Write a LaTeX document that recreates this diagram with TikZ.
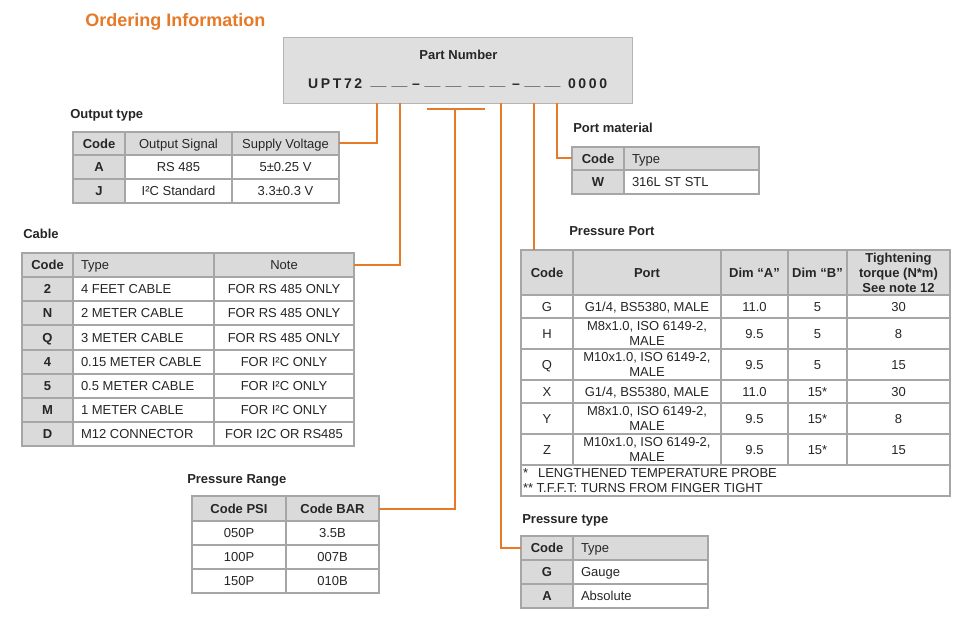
\documentclass[tikz,border=0pt]{standalone}
\usepackage{fontspec}
\setmainfont{Liberation Sans}
\definecolor{org}{HTML}{E77A28}
\definecolor{grid}{HTML}{A6A6A6}
\definecolor{hdr}{HTML}{DADADA}
\definecolor{tx}{HTML}{262626}
\definecolor{pnfill}{HTML}{DFDFDF}
\definecolor{pnline}{HTML}{B4B4B4}
\newcommand\fs{\fontsize{9.75}{10.8}\selectfont}
\tikzset{
  cellbg/.style={draw=grid, line width=1.1pt, inner sep=0pt, outer sep=0pt},
  txt/.style={inner sep=0pt, outer sep=0pt, font=\fs, text=tx},
  sl/.style={text height=7pt, text depth=0pt},
  bf/.style={font=\fs\bfseries},
  conn/.style={draw=org, line width=1.5pt},
  sect/.style={inner sep=0pt, anchor=base west, font=\fs\bfseries, text=tx},
  pnt/.style={inner sep=0pt, outer sep=0pt, font=\fontsize{10.5}{12}\selectfont\bfseries, text=tx},
}
\newcommand\cellbox[6]{\node[cellbg, fill=#6, minimum width={(#4-#2)*0.75pt}, minimum height={(#5-#3)*0.75pt}, anchor=north west] (#1) at (#2,#3) {};}
\newcommand\cc[8]{\cellbox{#1}{#2}{#3}{#4}{#5}{#6}\node[txt,sl,#7] (#1t) at (#1.center) {#8};}
\newcommand\cl[8]{\cellbox{#1}{#2}{#3}{#4}{#5}{#6}\node[txt,sl,anchor=west,#7] (#1t) at ([xshift=6pt]#1.west) {#8};}
\newcommand\cm[8]{\cellbox{#1}{#2}{#3}{#4}{#5}{#6}\node[txt,#7] (#1t) at (#1.center) {#8};}
\begin{document}
\begin{tikzpicture}[x=0.75pt,y=-0.75pt]
\fill[white] (0,0) rectangle (969,634);
\useasboundingbox (0,0) rectangle (969,634);

% title
\node[anchor=base west, inner sep=0pt, font=\fontsize{13.5}{16}\selectfont\bfseries, text=org] (title) at (85,26.5) {Ordering Information};

% part number box
\node[draw=pnline, fill=pnfill, line width=1pt, inner sep=0pt, minimum width={349*0.75pt}, minimum height={66*0.75pt}, anchor=north west] (pn) at (283,37) {};
\node[txt, bf, anchor=base] (pnl) at (458.5,59.5) {Part Number};
\node[pnt, anchor=base west] (pnu) at (308,89) {U\hspace{2pt}P\hspace{2pt}T\hspace{2pt}7\hspace{2pt}2};
\node[pnt, anchor=base] (b1) at (378.5,85.5) {\_\_};
\node[pnt, anchor=base] (b2) at (399.5,85.5) {\_\_};
\node[pnt, anchor=base] (d1) at (416,88.5) {–};
\node[pnt, anchor=base] (b3) at (432.5,85.5) {\_\_};
\node[pnt, anchor=base] (b4) at (453.5,85.5) {\_\_};
\node[pnt, anchor=base] (b5) at (476.5,85.5) {\_\_};
\node[pnt, anchor=base] (b6) at (497.5,85.5) {\_\_};
\node[pnt, anchor=base] (d2) at (516,88.5) {–};
\node[pnt, anchor=base] (b7) at (532.5,85.5) {\_\_};
\node[pnt, anchor=base] (b8) at (552.5,85.5) {\_\_};
\node[pnt, anchor=base west] (pnz) at (568,89) {0\hspace{2pt}0\hspace{2pt}0\hspace{2pt}0};

% section titles
\node[sect] (sOT) at (70,119) {Output type};
\node[sect] (sCB) at (23,239) {Cable};
\node[sect] (sPR) at (187,483) {Pressure Range};
\node[sect] (sPM) at (573,133) {Port material};
\node[sect] (sPP) at (569,236) {Pressure Port};
\node[sect] (sPT) at (522,523) {Pressure type};

% connector anchor points on part number box
\coordinate (c1) at (377,103);
\coordinate (c2) at (400,103);
\coordinate (ta) at (427,109);
\coordinate (tb) at (485,109);
\coordinate (tm) at (455,109);
\coordinate (c4) at (501,103);
\coordinate (c5) at (534,103);
\coordinate (c6) at (557,103);

% ---------- Output type ----------
\cc{otC}{73}{132}{125}{155}{hdr}{bf}{Code}
\cc{otO}{125}{132}{232}{155}{hdr}{}{Output Signal}
\cc{otS}{232}{132}{339}{155}{hdr}{}{Supply Voltage}
\cc{otA}{73}{155}{125}{179}{hdr}{bf}{A}
\cc{otAb}{125}{155}{232}{179}{white}{}{RS 485}
\cc{otAc}{232}{155}{339}{179}{white}{}{5±0.25 V}
\cc{otJ}{73}{179}{125}{203}{hdr}{bf}{J}
\cc{otJb}{125}{179}{232}{203}{white}{}{I²C Standard}
\cc{otJc}{232}{179}{339}{203}{white}{}{3.3±0.3 V}

% ---------- Cable ----------
\cc{cbC}{22}{253}{73}{277}{hdr}{bf}{Code}
\cl{cbT}{73}{253}{214}{277}{hdr}{}{Type}
\cc{cbN}{214}{253}{354}{277}{hdr}{}{Note}
\cc{cb1a}{22}{277}{73}{301}{hdr}{bf}{2}
\cl{cb1b}{73}{277}{214}{301}{white}{}{4 FEET CABLE}
\cc{cb1c}{214}{277}{354}{301}{white}{}{FOR RS 485 ONLY}
\cc{cb2a}{22}{301}{73}{325}{hdr}{bf}{N}
\cl{cb2b}{73}{301}{214}{325}{white}{}{2 METER CABLE}
\cc{cb2c}{214}{301}{354}{325}{white}{}{FOR RS 485 ONLY}
\cc{cb3a}{22}{325}{73}{350}{hdr}{bf}{Q}
\cl{cb3b}{73}{325}{214}{350}{white}{}{3 METER CABLE}
\cc{cb3c}{214}{325}{354}{350}{white}{}{FOR RS 485 ONLY}
\cc{cb4a}{22}{350}{73}{374}{hdr}{bf}{4}
\cl{cb4b}{73}{350}{214}{374}{white}{}{0.15 METER CABLE}
\cc{cb4c}{214}{350}{354}{374}{white}{}{FOR I²C ONLY}
\cc{cb5a}{22}{374}{73}{398}{hdr}{bf}{5}
\cl{cb5b}{73}{374}{214}{398}{white}{}{0.5 METER CABLE}
\cc{cb5c}{214}{374}{354}{398}{white}{}{FOR I²C ONLY}
\cc{cb6a}{22}{398}{73}{422}{hdr}{bf}{M}
\cl{cb6b}{73}{398}{214}{422}{white}{}{1 METER CABLE}
\cc{cb6c}{214}{398}{354}{422}{white}{}{FOR I²C ONLY}
\cc{cb7a}{22}{422}{73}{446}{hdr}{bf}{D}
\cl{cb7b}{73}{422}{214}{446}{white}{}{M12 CONNECTOR}
\cc{cb7c}{214}{422}{354}{446}{white}{}{FOR I2C OR RS485}

% ---------- Pressure Range ----------
\cc{prP}{192}{496}{286}{521}{hdr}{bf}{Code PSI}
\cc{prB}{286}{496}{379}{521}{hdr}{bf}{Code BAR}
\cc{pr1a}{192}{521}{286}{545}{white}{}{050P}
\cc{pr1b}{286}{521}{379}{545}{white}{}{3.5B}
\cc{pr2a}{192}{545}{286}{569}{white}{}{100P}
\cc{pr2b}{286}{545}{379}{569}{white}{}{007B}
\cc{pr3a}{192}{569}{286}{593}{white}{}{150P}
\cc{pr3b}{286}{569}{379}{593}{white}{}{010B}

% ---------- Port material ----------
\cc{pmC}{572}{147}{624}{170}{hdr}{bf}{Code}
\cl{pmT}{624}{147}{759}{170}{hdr}{}{Type}
\cc{pmW}{572}{170}{624}{194}{hdr}{bf}{W}
\cl{pmWb}{624}{170}{759}{194}{white}{}{316L ST STL}

% ---------- Pressure Port ----------
\cc{ppC}{521}{250}{573}{295}{hdr}{bf}{Code}
\cc{ppP}{573}{250}{721}{295}{hdr}{bf}{Port}
\cc{ppA}{721}{250}{788}{295}{hdr}{bf}{Dim “A”}
\cc{ppB}{788}{250}{847}{295}{hdr}{bf}{Dim “B”}
\cm{ppT}{847}{250}{950}{295}{hdr}{align=center, font=\fontsize{9.75}{11.25}\selectfont\bfseries}{Tightening\\torque (N*m)\\See note 12}
% row G
\cc{pg1}{521}{295}{573}{318}{white}{}{G}
\cc{pg2}{573}{295}{721}{318}{white}{}{G1/4, BS5380, MALE}
\cc{pg3}{721}{295}{788}{318}{white}{}{11.0}
\cc{pg4}{788}{295}{847}{318}{white}{}{5}
\cc{pg5}{847}{295}{950}{318}{white}{}{30}
% row H
\cc{ph1}{521}{318}{573}{349}{white}{}{H}
\cm{ph2}{573}{318}{721}{349}{white}{align=center}{M8x1.0, ISO 6149-2,\\MALE}
\cc{ph3}{721}{318}{788}{349}{white}{}{9.5}
\cc{ph4}{788}{318}{847}{349}{white}{}{5}
\cc{ph5}{847}{318}{950}{349}{white}{}{8}
% row Q
\cc{pq1}{521}{349}{573}{380}{white}{}{Q}
\cm{pq2}{573}{349}{721}{380}{white}{align=center}{M10x1.0, ISO 6149-2,\\MALE}
\cc{pq3}{721}{349}{788}{380}{white}{}{9.5}
\cc{pq4}{788}{349}{847}{380}{white}{}{5}
\cc{pq5}{847}{349}{950}{380}{white}{}{15}
% row X
\cc{px1}{521}{380}{573}{403}{white}{}{X}
\cc{px2}{573}{380}{721}{403}{white}{}{G1/4, BS5380, MALE}
\cc{px3}{721}{380}{788}{403}{white}{}{11.0}
\cc{px4}{788}{380}{847}{403}{white}{}{15*}
\cc{px5}{847}{380}{950}{403}{white}{}{30}
% row Y
\cc{py1}{521}{403}{573}{434}{white}{}{Y}
\cm{py2}{573}{403}{721}{434}{white}{align=center}{M8x1.0, ISO 6149-2,\\MALE}
\cc{py3}{721}{403}{788}{434}{white}{}{9.5}
\cc{py4}{788}{403}{847}{434}{white}{}{15*}
\cc{py5}{847}{403}{950}{434}{white}{}{8}
% row Z
\cc{pz1}{521}{434}{573}{465}{white}{}{Z}
\cm{pz2}{573}{434}{721}{465}{white}{align=center}{M10x1.0, ISO 6149-2,\\MALE}
\cc{pz3}{721}{434}{788}{465}{white}{}{9.5}
\cc{pz4}{788}{434}{847}{465}{white}{}{15*}
\cc{pz5}{847}{434}{950}{465}{white}{}{15}
% footnotes
\cellbox{ppF}{521}{465}{950}{496}{white}
\node[txt, sl, anchor=west] (ppF1) at (523,473) {*\hspace{7.5pt}LENGTHENED TEMPERATURE PROBE};
\node[txt, sl, anchor=west] (ppF2) at (523,488) {** T.F.F.T: TURNS FROM FINGER TIGHT};

% ---------- Pressure type ----------
\cc{ptC}{521}{536}{573}{560}{hdr}{bf}{Code}
\cl{ptT}{573}{536}{708}{560}{hdr}{}{Type}
\cc{ptG}{521}{560}{573}{584}{hdr}{bf}{G}
\cl{ptGb}{573}{560}{708}{584}{white}{}{Gauge}
\cc{ptA}{521}{584}{573}{608}{hdr}{bf}{A}
\cl{ptAb}{573}{584}{708}{608}{white}{}{Absolute}

% ---------- connectors ----------
\draw[conn] (c1) |- (otS.east);
\draw[conn] (c2) |- (cbN.east);
\draw[conn] (ta) -- (tb);
\draw[conn] (tm) |- (prB.east);
\draw[conn] (c4) |- (ptC.west);
\draw[conn] (c5) -- (c5 |- ppC.north);
\draw[conn] (c6) |- (pmC.west);
\end{tikzpicture}
\end{document}
